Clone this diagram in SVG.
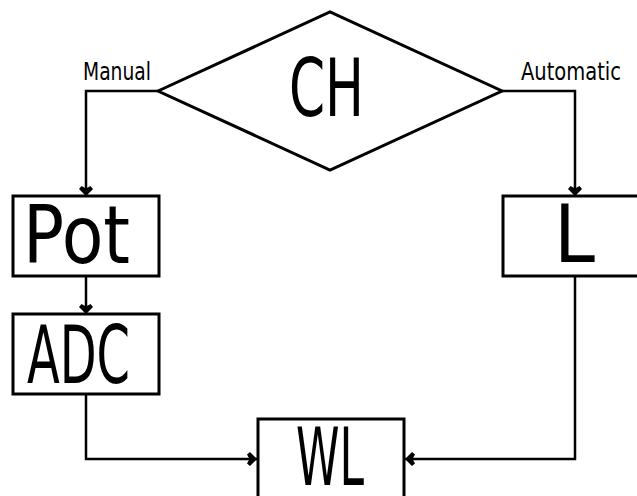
<svg xmlns="http://www.w3.org/2000/svg" width="637" height="496" viewBox="0 0 637 496">
  <style>
    .shape { fill: #ffffff; stroke: #000000; stroke-width: 3; }
    .wire { fill: none; stroke: #000000; stroke-width: 2.5; }
    .big { font-family: "DejaVu Sans", "Liberation Sans", sans-serif; font-size: 80px; fill: #000000; }
    .small { font-family: "DejaVu Sans", "Liberation Sans", sans-serif; font-size: 24px; fill: #000000; }
  </style>
  <defs>
    <!-- heart-shaped arrowhead, tip at the origin -->
    <marker id="head" viewBox="-11 -8 12 16" markerWidth="12" markerHeight="16" refX="0" refY="0" orient="auto" markerUnits="userSpaceOnUse">
      <path d="M0,0 L-7,-7 L-10,-4.5 L-7.5,0 L-10,4.5 L-7,7 Z" fill="#000000"/>
    </marker>
  </defs>
  <rect width="637" height="496" fill="#ffffff"/>

  <g id="node-ch">
    <polygon class="shape" points="158,91 330,12 502,91 330,170"/>
    <text class="big" x="289" y="116" textLength="75" lengthAdjust="spacingAndGlyphs">CH</text>
  </g>
  <g id="node-pot">
    <rect class="shape" x="13" y="196" width="146" height="80"/>
    <text class="big" x="23" y="263" textLength="107" lengthAdjust="spacingAndGlyphs">Pot</text>
  </g>
  <g id="node-adc">
    <rect class="shape" x="13" y="314" width="146" height="80"/>
    <text class="big" x="27" y="383" textLength="103" lengthAdjust="spacingAndGlyphs">ADC</text>
  </g>
  <g id="node-l">
    <rect class="shape" x="503" y="196" width="146" height="80"/>
    <text class="big" x="554" y="262" textLength="41" lengthAdjust="spacingAndGlyphs">L</text>
  </g>
  <g id="node-wl">
    <rect class="shape" x="258" y="419" width="146" height="82"/>
    <text class="big" x="296" y="485" textLength="68" lengthAdjust="spacingAndGlyphs">WL</text>
  </g>

  <g id="connectors">
    <path class="wire" d="M158,91 H86 V196" marker-end="url(#head)"/>
    <path class="wire" d="M502,91 H575 V196" marker-end="url(#head)"/>
    <path class="wire" d="M86,276 V314" marker-end="url(#head)"/>
    <path class="wire" d="M86,394 V459 H257" marker-end="url(#head)"/>
    <path class="wire" d="M575,276 V459 H405" marker-end="url(#head)"/>
    <text class="small" x="83" y="80" textLength="68" lengthAdjust="spacingAndGlyphs">Manual</text>
    <text class="small" x="521" y="80" textLength="100" lengthAdjust="spacingAndGlyphs">Automatic</text>
  </g>
</svg>
